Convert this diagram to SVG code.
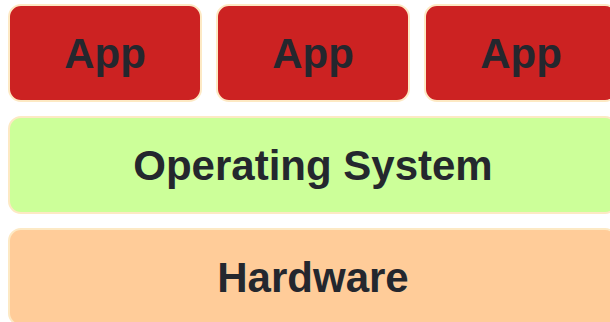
<svg xmlns="http://www.w3.org/2000/svg" width="610" height="322" viewBox="0 0 610 322">
<style>
.box{stroke:#fde9c4;stroke-width:2}
.app{fill:#cc2222}
.os{fill:#ccff99}
.hw{fill:#ffcc99}
text{font-family:"Liberation Sans",Arial,sans-serif;font-weight:bold;font-size:42px;fill:#24272e;text-anchor:middle;dominant-baseline:central}
</style>
<rect width="610" height="322" fill="#ffffff"/>
<g id="app1"><rect class="box app" x="9" y="5" width="192" height="96" rx="12"/><text x="105" y="53">App</text></g>
<g id="app2"><rect class="box app" x="217" y="5" width="192" height="96" rx="12"/><text x="313" y="53">App</text></g>
<g id="app3"><rect class="box app" x="425" y="5" width="192" height="96" rx="12"/><text x="521" y="53">App</text></g>
<g id="os"><rect class="box os" x="9" y="117" width="608" height="96" rx="12"/><text x="313" y="165">Operating System</text></g>
<g id="hardware"><rect class="box hw" x="9" y="229" width="608" height="96" rx="12"/><text x="313" y="277">Hardware</text></g>
<g id="connectors"></g>
</svg>
